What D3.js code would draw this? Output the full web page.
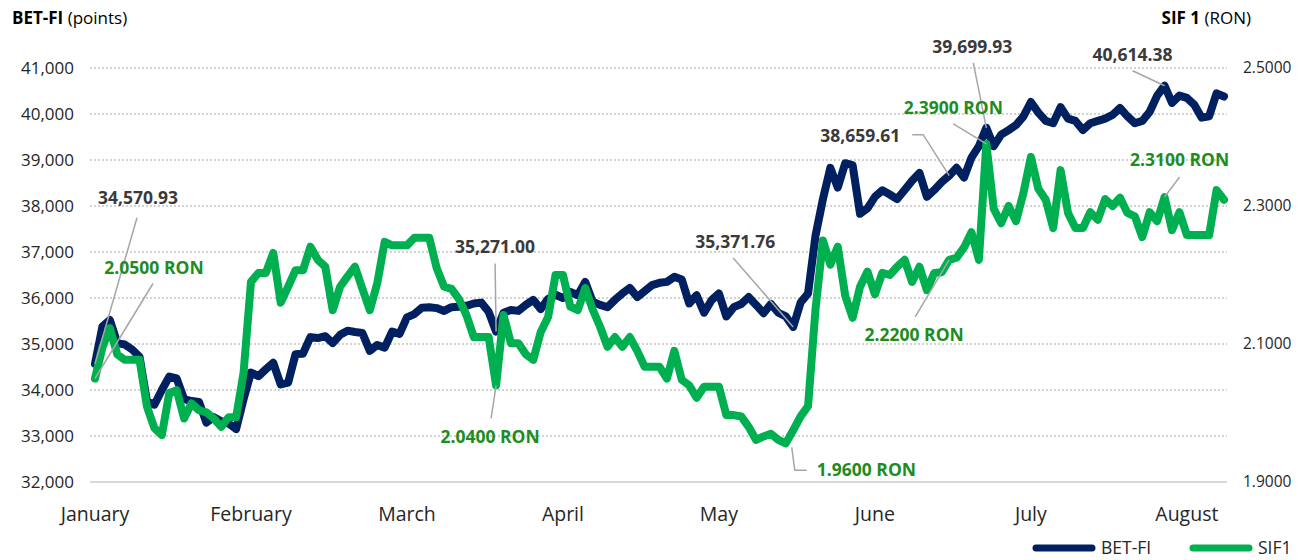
<!DOCTYPE html>
<html>
<head>
<meta charset="utf-8">
<script src="https://cdn.jsdelivr.net/npm/d3@7"></script>
<style>
  body { margin: 0; background: #fff; }
  svg { display: block; font-family: "Open Sans", sans-serif; }
</style>
</head>
<body>
<svg width="1304" height="560"></svg>
<script>
// daily closes, one value per trading day
var betFi = [
  34571, 35380, 35520, 35020, 34990, 34880, 34720, 33750, 33680, 34000,
  34290, 34250, 33800, 33760, 33740, 33290, 33410, 33320, 33270, 33150,
  33800, 34380, 34300, 34450, 34590, 34120, 34160, 34780, 34790, 35150,
  35130, 35170, 35020, 35200, 35290, 35260, 35240, 34850, 34980, 34920,
  35270, 35220, 35580, 35650, 35790, 35800, 35780, 35720, 35800, 35810,
  35830, 35880, 35900, 35700, 35271, 35680, 35740, 35720, 35850, 35960,
  35760, 35980, 36070, 36000, 36130, 36060, 36350, 35920, 35850, 35800,
  35960, 36100, 36220, 36020, 36150, 36280, 36330, 36350, 36460, 36400,
  35880, 36060, 35680, 35950, 36100, 35600, 35800, 35870, 36020, 35850,
  35670, 35870, 35680, 35600, 35372, 35900, 36100, 37350, 38150, 38830,
  38400, 38930, 38890, 37830, 37950, 38200, 38340, 38250, 38150, 38350,
  38550, 38720, 38200, 38350, 38520, 38660, 38830, 38620, 39050, 39300,
  39700, 39300, 39550, 39650, 39760, 39950, 40260, 40030, 39850, 39800,
  40150, 39900, 39850, 39650, 39800, 39850, 39900, 39980, 40130, 39950,
  39800, 39850, 40050, 40400, 40614, 40240, 40400, 40350, 40200, 39920,
  39950, 40450, 40380
];

var sif1 = [
  2.050, 2.095, 2.123, 2.085, 2.077, 2.077, 2.077, 2.009, 1.978, 1.968,
  2.029, 2.033, 1.992, 2.014, 2.004, 2.001, 1.992, 1.980, 1.994, 1.994,
  2.058, 2.190, 2.203, 2.203, 2.232, 2.160, 2.183, 2.207, 2.207, 2.241,
  2.222, 2.212, 2.149, 2.183, 2.198, 2.212, 2.180, 2.149, 2.188, 2.248,
  2.243, 2.243, 2.243, 2.254, 2.254, 2.254, 2.210, 2.183, 2.180, 2.165,
  2.142, 2.110, 2.110, 2.110, 2.040, 2.142, 2.101, 2.101, 2.085, 2.077,
  2.117, 2.139, 2.200, 2.200, 2.154, 2.149, 2.181, 2.150, 2.125, 2.096,
  2.110, 2.096, 2.110, 2.090, 2.067, 2.067, 2.067, 2.050, 2.090, 2.048,
  2.040, 2.022, 2.038, 2.038, 2.038, 1.997, 1.997, 1.995, 1.980, 1.961,
  1.966, 1.970, 1.961, 1.956, 1.975, 1.995, 2.010, 2.150, 2.250, 2.215,
  2.241, 2.170, 2.138, 2.183, 2.205, 2.172, 2.203, 2.200, 2.212, 2.222,
  2.190, 2.212, 2.178, 2.203, 2.204, 2.222, 2.225, 2.240, 2.262, 2.222,
  2.390, 2.296, 2.275, 2.300, 2.278, 2.319, 2.371, 2.325, 2.309, 2.268,
  2.352, 2.290, 2.268, 2.268, 2.291, 2.280, 2.310, 2.300, 2.312, 2.290,
  2.285, 2.255, 2.291, 2.278, 2.313, 2.265, 2.291, 2.258, 2.258, 2.258,
  2.258, 2.323, 2.309
];

var months = ["January", "February", "March", "April", "May", "June", "July", "August"];
var daysPerLabel = 21;

var leftTicks = [32000, 33000, 34000, 35000, 36000, 37000, 38000, 39000, 40000, 41000];
var rightTicks = [1.9, 2.1, 2.3, 2.5];

// callouts: series, trading day, text
var notes = [
  { s: "bet", day: 0,   text: "34,570.93" },
  { s: "sif", day: 0,   text: "2.0500 RON" },
  { s: "bet", day: 54,  text: "35,271.00" },
  { s: "sif", day: 54,  text: "2.0400 RON" },
  { s: "bet", day: 94,  text: "35,371.76" },
  { s: "sif", day: 93,  text: "1.9600 RON" },
  { s: "bet", day: 115, text: "38,659.61" },
  { s: "bet", day: 120, text: "39,699.93" },
  { s: "sif", day: 120, text: "2.3900 RON" },
  { s: "sif", day: 115, text: "2.2200 RON" },
  { s: "bet", day: 144, text: "40,614.38" },
  { s: "sif", day: 144, text: "2.3100 RON" }
];

// where each callout text sits (baseline) and how its leader runs, relative to the point
var noteLayout = [
  { tx: 43,  ty: -160, lead: [[42, -146]] },
  { tx: 59,  ty: -105, lead: [[58, -95]] },
  { tx: -1,  ty: -79,  lead: [[-1, -68]] },
  { tx: -6,  ty: 58,   lead: [[-5, 33]] },
  { tx: -58, ty: -79,  lead: [[-60, -69]] },
  { tx: 31,  ty: 33,   anchor: "start", lead: [[21, 27], [9, 27], [6, 4]] },
  { tx: -89, ty: -34,  lead: [[-37, -41], [-26, -41]] },
  { tx: -14, ty: -75,  lead: [[-13, -65]] },
  { tx: -33, ty: -30,  lead: [[-33, -20]] },
  { tx: -35, ty: 81,   lead: [[-34, 57]] },
  { tx: -32, ty: -25,  lead: [[-32, -15]] },
  { tx: 15,  ty: -31,  lead: [[15, -20]] }
];

var navy = "#002060", green = "#00b050", labelGreen = "#1e8c1e", ink = "#262626";

var svg = d3.select("svg");

var x = d3.scaleLinear().domain([0, betFi.length - 1]).range([95, 1224]);
var yL = d3.scaleLinear().domain([32000, 41000]).range([482, 68]);
var yR = d3.scaleLinear().domain([1.9, 2.5]).range([482, 68]);

// grid
svg.append("g")
  .selectAll("line")
  .data(leftTicks)
  .enter().append("line")
    .attr("x1", 90).attr("x2", 1227)
    .attr("y1", function(d) { return yL(d); })
    .attr("y2", function(d) { return yL(d); })
    .style("stroke", function(d) { return d == 32000 ? "#d9d9d9" : "#a6a6a6"; })
    .style("stroke-width", function(d) { return d == 32000 ? 2 : 1; })
    .style("stroke-dasharray", function(d) { return d == 32000 ? null : "2,2"; });

svg.append("g")
  .selectAll("text")
  .data(leftTicks)
  .enter().append("text")
    .attr("x", 74)
    .attr("y", function(d) { return yL(d); })
    .attr("dy", "0.35em")
    .attr("text-anchor", "end")
    .style("font-size", "17px")
    .style("fill", ink)
    .text(d3.format(","));

svg.append("g")
  .selectAll("text")
  .data(rightTicks)
  .enter().append("text")
    .attr("x", 1243)
    .attr("y", function(d) { return yR(d); })
    .attr("dy", "0.35em")
    .style("font-size", "15.5px")
    .style("fill", ink)
    .text(d3.format(".4f"));

svg.append("g")
  .selectAll("text")
  .data(months)
  .enter().append("text")
    .attr("x", function(d, i) { return x(i * daysPerLabel); })
    .attr("y", 521)
    .attr("text-anchor", "middle")
    .style("font-size", "19.5px")
    .style("fill", ink)
    .text(function(d) { return d; });

// axis titles
var t1 = svg.append("text").attr("x", 12).attr("y", 24).style("font-size", "17px").style("fill", "#000");
t1.append("tspan").style("font-weight", "bold").text("BET-FI");
t1.append("tspan").text(" (points)");

var t2 = svg.append("text").attr("x", 1251).attr("y", 24).attr("text-anchor", "end").style("font-size", "17px").style("fill", "#000");
t2.append("tspan").style("font-weight", "bold").text("SIF 1");
t2.append("tspan").text(" (RON)");

// lines
var betLine = d3.line()
  .x(function(d, i) { return x(i); })
  .y(function(d) { return yL(d); });

var sifLine = d3.line()
  .x(function(d, i) { return x(i); })
  .y(function(d) { return yR(d); });

svg.append("path")
  .datum(betFi)
  .attr("d", betLine)
  .style("fill", "none")
  .style("stroke", navy)
  .style("stroke-width", 8)
  .style("stroke-linejoin", "round")
  .style("stroke-linecap", "round");

svg.append("path")
  .datum(sif1)
  .attr("d", sifLine)
  .style("fill", "none")
  .style("stroke", green)
  .style("stroke-width", 8)
  .style("stroke-linejoin", "round")
  .style("stroke-linecap", "round");

// callouts
notes.forEach(function(n, k) {
  var lay = noteLayout[k];
  var px = x(n.day);
  var py = n.s == "bet" ? yL(betFi[n.day]) : yR(sif1[n.day]);
  var pts = lay.lead.map(function(p) { return [px + p[0], py + p[1]]; });
  if (lay.anchor != "start") pts.push([px, py]);

  svg.append("path")
    .attr("d", d3.line()(pts))
    .style("fill", "none")
    .style("stroke", "#a6a6a6")
    .style("stroke-width", 1.5);

  svg.append("text")
    .attr("x", px + lay.tx)
    .attr("y", py + lay.ty)
    .attr("text-anchor", lay.anchor || "middle")
    .style("font-size", "17.5px")
    .style("font-weight", "bold")
    .style("fill", n.s == "bet" ? "#3a3a3a" : labelGreen)
    .text(n.text);
});

// legend
var legend = svg.append("g").attr("transform", "translate(0,548)");
[["BET-FI", navy, 1036], ["SIF1", green, 1193]].forEach(function(l) {
  legend.append("line")
    .attr("x1", l[2]).attr("x2", l[2] + 56)
    .style("stroke", l[1])
    .style("stroke-width", 7)
    .style("stroke-linecap", "round");
  legend.append("text")
    .attr("x", l[2] + 65)
    .attr("dy", "0.35em")
    .style("font-size", "17.5px")
    .style("fill", ink)
    .text(l[0]);
});
</script>
</body>
</html>
